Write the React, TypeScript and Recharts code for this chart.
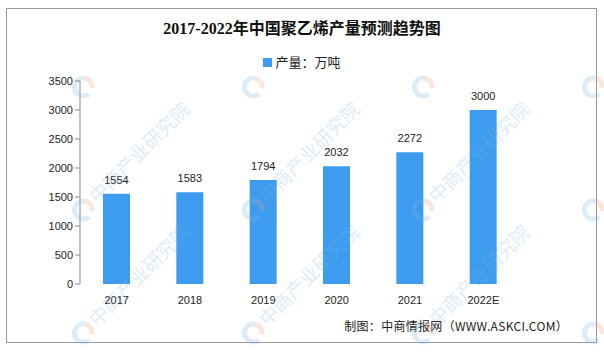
import React from "react";
import { BarChart, Bar, XAxis, YAxis, LabelList } from "recharts";

const categories = ["2017", "2018", "2019", "2020", "2021", "2022E"];
const production = [1554, 1583, 1794, 2032, 2272, 3000];
const yTicks = [0, 500, 1000, 1500, 2000, 2500, 3000, 3500];
const boundaryTicks = [0, 1, 2, 3, 4, 5, 6];

const title = "2017-2022年中国聚乙烯产量预测趋势图";
const legendLabel = "产量：万吨";
const footer = "制图：中商情报网（WWW.ASKCI.COM）";
const watermarkText = "中商产业研究院";

const data = categories.map((c, i) => ({ name: c, value: production[i] }));

const BLUE = "#3d9cf0";
const AXIS = "#888";

const wmCols = [-87, 83, 253, 423, 593];
const wmRows = [-36, 87, 210, 333];

function Watermarks() {
  const items: React.ReactNode[] = [];
  wmCols.forEach((x) =>
    wmRows.forEach((y) => {
      const textFits = x > 0 && x < 500 && y > 150;
      items.push(
        <g key={`${x}-${y}`} transform={`translate(${x},${y})`}>
          <path d="M 6 -7 A 9 9 0 1 0 6 7" fill="none" stroke="#7fb6e3" strokeWidth={5} />
          <path d="M 2 -9 A 9 9 0 0 1 9 1" fill="none" stroke="#f0a080" strokeWidth={5} />
          {textFits && (
            <text
              x={14}
              y={6}
              transform="rotate(-45)"
              fontSize={19}
              fontFamily="'Noto Sans CJK SC', sans-serif"
              fill="#7fb6e3"
            >
              {watermarkText}
            </text>
          )}
        </g>
      );
    })
  );
  return (
    <svg
      width={604}
      height={352}
      style={{ position: "absolute", left: 0, top: 0, opacity: 0.25, pointerEvents: "none" }}
    >
      {items}
    </svg>
  );
}

export default function App() {
  return (
    <div style={{ position: "absolute", left: 0, top: 0, width: 604, height: 352, background: "#fff", overflow: "hidden" }}>
      <div
        style={{
          position: "absolute",
          left: 6,
          top: 8,
          width: 591,
          height: 335,
          border: "1px solid #999",
          boxSizing: "border-box",
        }}
      />
      <div
        style={{
          position: "absolute",
          left: 0,
          top: 19,
          width: 604,
          textAlign: "center",
          fontFamily: "'Liberation Serif', 'Noto Sans CJK SC', serif",
          fontWeight: "bold",
          fontSize: 16,
          color: "#111",
          lineHeight: "20px",
        }}
      >
        {title}
      </div>
      <div
        style={{
          position: "absolute",
          left: 0,
          top: 54,
          width: 604,
          display: "flex",
          justifyContent: "center",
          alignItems: "center",
          fontFamily: "'Noto Sans CJK SC', sans-serif",
          fontSize: 13,
          color: "#222",
          lineHeight: "16px",
        }}
      >
        <span style={{ display: "inline-block", width: 9, height: 9, background: BLUE, marginRight: 3 }} />
        <span>{legendLabel}</span>
      </div>
      <div
        style={{
          position: "absolute",
          right: 36,
          top: 318,
          fontFamily: "'Noto Sans CJK SC', sans-serif",
          fontSize: 12,
          color: "#222",
          lineHeight: "16px",
          whiteSpace: "nowrap",
          letterSpacing: 0.3,
        }}
      >
        {footer}
      </div>
      <div style={{ position: "absolute", left: 0, top: 0 }}>
        <BarChart
          width={604}
          height={352}
          data={data}
          margin={{ top: 81, right: 84, bottom: 38, left: 20 }}
        >
          <XAxis
            dataKey="name"
            xAxisId="cat"
            axisLine={false}
            tickLine={false}
            tick={{ fontSize: 11, fill: "#222", fontFamily: "'Liberation Sans', sans-serif" }}
            tickMargin={6}
            height={30}
          />
          <XAxis
            xAxisId="grid"
            type="number"
            domain={[0, 6]}
            ticks={boundaryTicks}
            tick={false}
            axisLine={{ stroke: AXIS }}
            tickLine={{ stroke: AXIS }}
            tickSize={5}
            height={0}
          />
          <YAxis
            domain={[0, 3500]}
            ticks={yTicks}
            width={60}
            axisLine={{ stroke: AXIS }}
            tickLine={{ stroke: AXIS }}
            tickSize={5}
            interval={0}
            tick={{ fontSize: 11, fill: "#222", fontFamily: "'Liberation Sans', sans-serif" }}
          />
          <Bar dataKey="value" xAxisId="cat" fill={BLUE} barSize={27} isAnimationActive={false}>
            <LabelList
              dataKey="value"
              position="top"
              offset={10}
              style={{ fontSize: 11, fill: "#222", fontFamily: "'Liberation Sans', sans-serif" }}
            />
          </Bar>
        </BarChart>
      </div>
      <Watermarks />
    </div>
  );
}
